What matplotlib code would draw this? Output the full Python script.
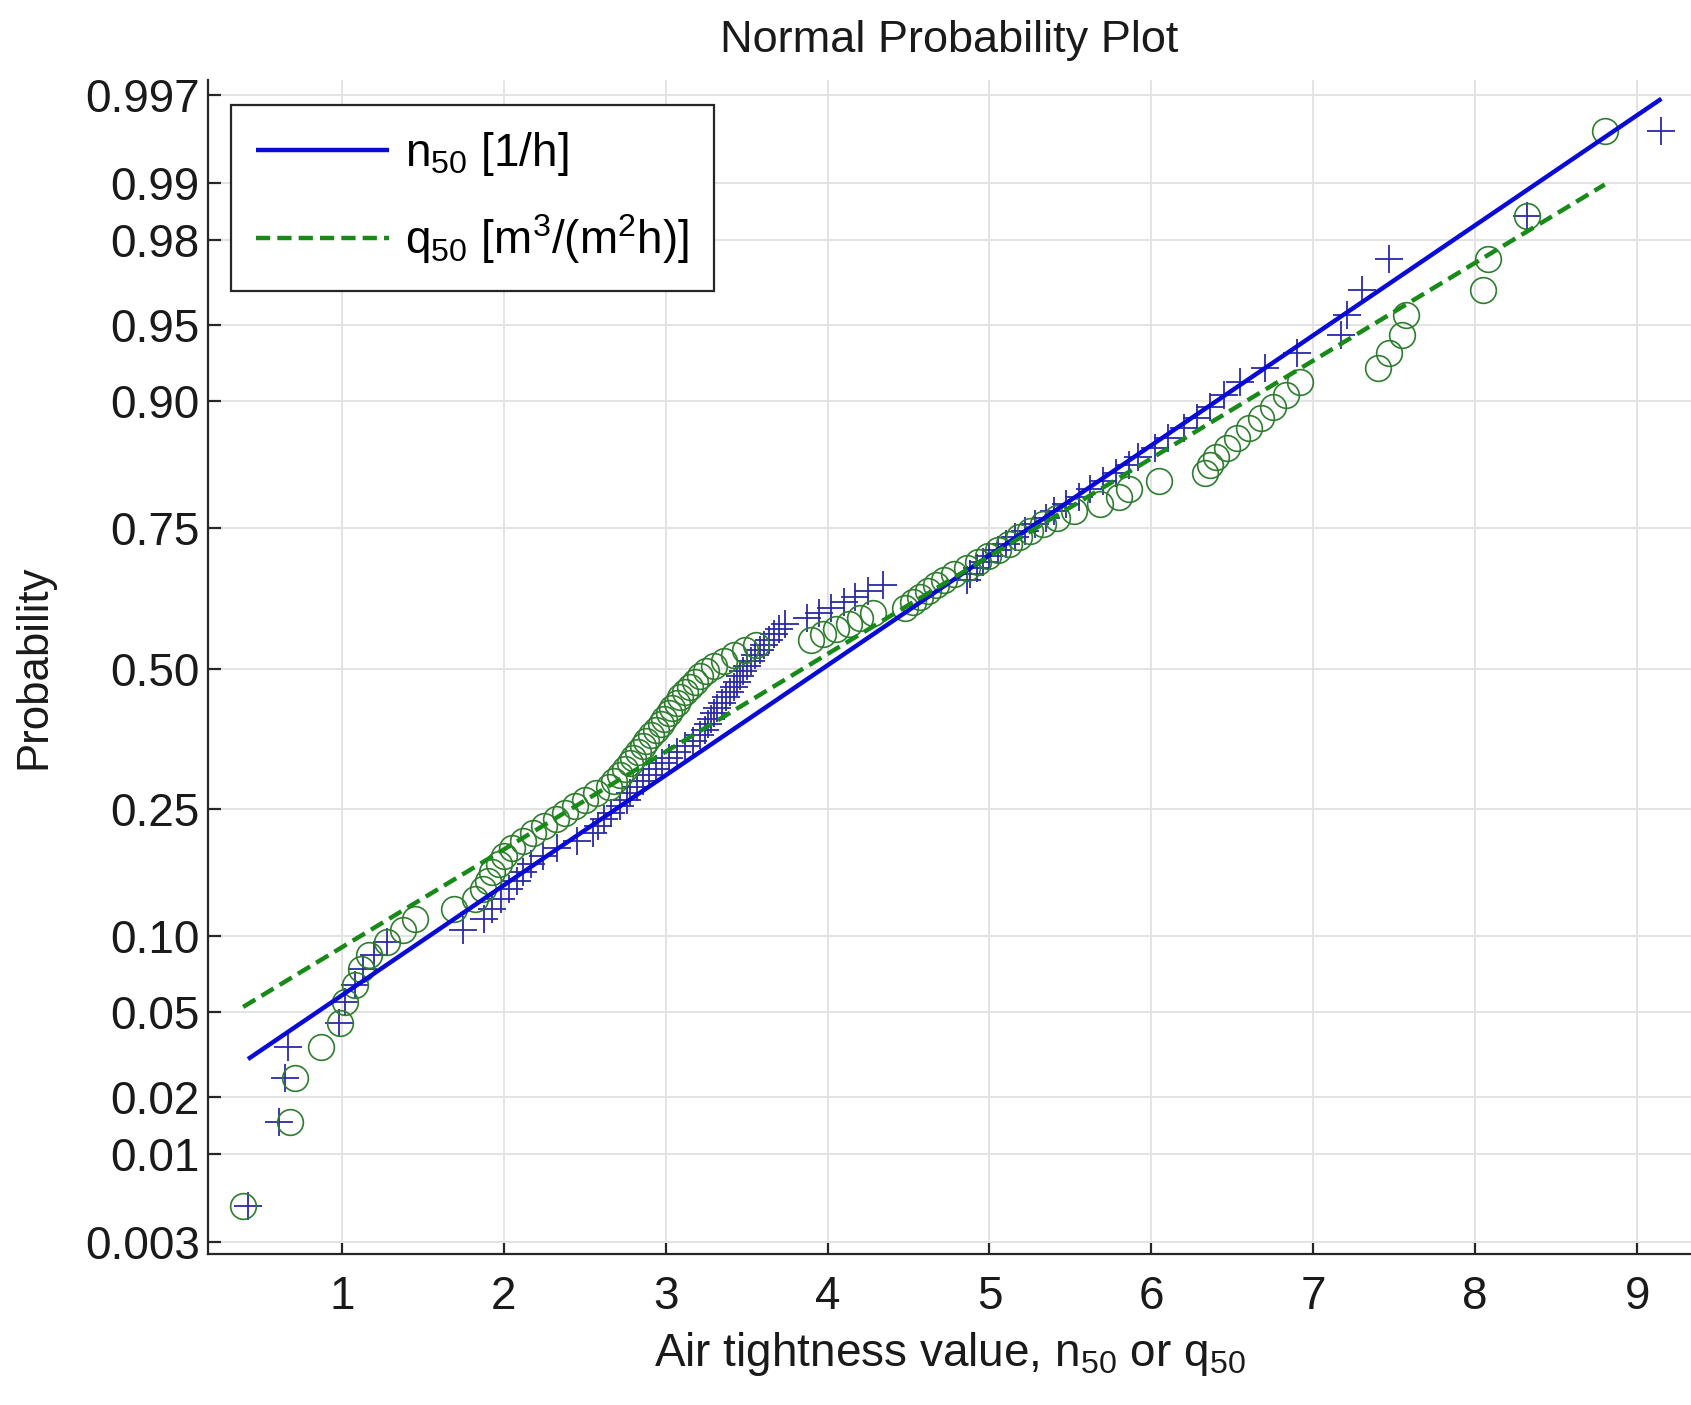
import numpy as np
import matplotlib
matplotlib.use("Agg")
import matplotlib.pyplot as plt
from statistics import NormalDist

plt.rcParams['font.family'] = ['Liberation Sans', 'DejaVu Sans']
plt.rcParams['mathtext.fontset'] = 'custom'
plt.rcParams['mathtext.rm'] = 'Liberation Sans'
plt.rcParams['mathtext.it'] = 'Liberation Sans:italic'
plt.rcParams['mathtext.bf'] = 'Liberation Sans:bold'

# ---------------- data (sorted air tightness values) ----------------
n50_values = [
    0.42, 0.61, 0.65, 0.67, 0.98, 1.02, 1.08, 1.13, 1.20, 1.28,
    1.75, 1.88, 1.93, 1.98, 2.03, 2.08, 2.12, 2.17, 2.24, 2.33,
    2.45, 2.55, 2.58, 2.62, 2.66, 2.72, 2.76, 2.78, 2.82, 2.86,
    2.90, 2.94, 2.98, 3.02, 3.07, 3.12, 3.17, 3.21, 3.24, 3.26,
    3.28, 3.30, 3.32, 3.35, 3.37, 3.40, 3.42, 3.44, 3.46, 3.48,
    3.50, 3.53, 3.55, 3.58, 3.61, 3.64, 3.67, 3.70, 3.74, 3.87,
    3.95, 4.02, 4.10, 4.17, 4.25, 4.34, 4.86, 4.88, 4.92, 4.96,
    5.00, 5.05, 5.10, 5.16, 5.22, 5.28, 5.35, 5.40, 5.47, 5.55,
    5.62, 5.70, 5.78, 5.86, 5.92, 6.02, 6.10, 6.20, 6.28, 6.36,
    6.45, 6.55, 6.70, 6.90, 7.17, 7.21, 7.30, 7.47, 8.32, 9.15,
]
q50_values = [
    0.39, 0.68, 0.71, 0.87, 0.99, 1.02, 1.08, 1.12, 1.17, 1.28,
    1.38, 1.45, 1.69, 1.82, 1.87, 1.90, 1.93, 1.97, 2.00, 2.05,
    2.12, 2.18, 2.25, 2.32, 2.38, 2.44, 2.50, 2.57, 2.65, 2.68,
    2.72, 2.75, 2.78, 2.80, 2.83, 2.86, 2.88, 2.91, 2.94, 2.97,
    2.99, 3.02, 3.04, 3.07, 3.09, 3.12, 3.15, 3.18, 3.21, 3.25,
    3.30, 3.36, 3.42, 3.49, 3.56, 3.90, 3.97, 4.05, 4.13, 4.20,
    4.28, 4.48, 4.53, 4.57, 4.62, 4.67, 4.72, 4.78, 4.86, 4.93,
    4.99, 5.05, 5.12, 5.18, 5.25, 5.33, 5.42, 5.52, 5.68, 5.80,
    5.86, 6.05, 6.33, 6.36, 6.40, 6.47, 6.53, 6.60, 6.68, 6.75,
    6.83, 6.92, 7.40, 7.47, 7.55, 7.57, 8.05, 8.08, 8.32, 8.80,
]
series_labels = [r'n$_{50}$ [1/h]', r'q$_{50}$ [m$^{3}$/(m$^{2}$h)]']
prob_ticks = [0.003, 0.01, 0.02, 0.05, 0.10, 0.25, 0.50, 0.75, 0.90, 0.95, 0.98, 0.99, 0.997]
prob_tick_labels = ['0.003', '0.01', '0.02', '0.05', '0.10', '0.25', '0.50',
                    '0.75', '0.90', '0.95', '0.98', '0.99', '0.997']
x_ticks = [1, 2, 3, 4, 5, 6, 7, 8, 9]

# ---------------- normal probability scale ----------------
_nd = NormalDist()
_ppf = np.vectorize(_nd.inv_cdf, otypes=[float])
_cdf = np.vectorize(_nd.cdf, otypes=[float])


def fwd(p):
    p = np.clip(np.asarray(p, dtype=float), 1e-12, 1 - 1e-12)
    return _ppf(p)


def inv(z):
    return _cdf(np.asarray(z, dtype=float))


def plotting_positions(n):
    return (np.arange(1, n + 1) - 0.5) / n


def prctile(x, pct):
    xs = np.sort(x)
    n = len(xs)
    pos = pct / 100.0 * n + 0.5  # 1-based position
    return np.interp(pos, np.arange(1, n + 1), xs)


def ref_line(x):
    q1, q3 = prctile(x, 25), prctile(x, 75)
    z1, z3 = _nd.inv_cdf(0.25), _nd.inv_cdf(0.75)
    slope = (z3 - z1) / (q3 - q1)
    xl = np.array([np.min(x), np.max(x)])
    zl = z1 + slope * (xl - q1)
    return xl, inv(zl)


fig = plt.figure(figsize=(16.91, 14.05), dpi=100)
ax = fig.add_axes([0.123, 0.1075, 0.877, 0.8355])
ax.set_yscale('function', functions=(fwd, inv))

plus_color = '#2a2aa6'
circ_color = '#2e7d2e'
blue_line = '#0a0ad8'
green_line = '#178a17'

xn = np.sort(np.array(n50_values))
xq = np.sort(np.array(q50_values))
ax.plot(xn, plotting_positions(len(xn)), linestyle='none', marker='+',
        markersize=20, markeredgewidth=1.3, color=plus_color, zorder=3)
ax.plot(xq, plotting_positions(len(xq)), linestyle='none', marker='o',
        markersize=18.5, markeredgewidth=1.2, markerfacecolor='none',
        markeredgecolor=circ_color, zorder=3)

lx, lp = ref_line(xn)
ax.plot(lx, lp, color=blue_line, linewidth=3.2, solid_capstyle='butt',
        label=series_labels[0], zorder=4)
lx, lp = ref_line(xq)
ax.plot(lx, lp, color=green_line, linewidth=3.2, linestyle=(0, (3.2, 1.6)),
        label=series_labels[1], zorder=4)

ax.set_xlim(0.173, 9.333)
ax.set_ylim(inv(-2.804), inv(2.819))
ax.set_xticks(x_ticks)
ax.set_xticklabels([str(t) for t in x_ticks])
ax.set_yticks(prob_ticks)
ax.set_yticklabels(prob_tick_labels)
ax.minorticks_off()

ax.grid(True, color='#e3e3e3', linewidth=1.4)
ax.set_axisbelow(True)
for s in ['top', 'right']:
    ax.spines[s].set_visible(False)
for s in ['left', 'bottom']:
    ax.spines[s].set_linewidth(1.6)
    ax.spines[s].set_color('#262626')

ax.tick_params(axis='both', direction='in', length=9, width=1.6, colors='#262626',
               labelsize=33, labelcolor='#1a1a1a')
ax.tick_params(axis='y', pad=6)
ax.tick_params(axis='x', pad=15)

ax.set_title('Normal Probability Plot', fontsize=32.5, color='#1a1a1a', pad=20)
ax.set_xlabel(r'Air tightness value, n$_{50}$ or q$_{50}$', fontsize=33,
              color='#1a1a1a', labelpad=8)
ax.set_ylabel('Probability', fontsize=31.5, color='#1a1a1a', labelpad=22)

leg = ax.legend(loc='upper left', bbox_to_anchor=(0.0155, 0.979), borderaxespad=0,
                fontsize=33, handlelength=2.9, handletextpad=0.35,
                labelspacing=0.75, borderpad=0.55, fancybox=False, framealpha=1)
leg.get_frame().set_edgecolor('#262626')
leg.get_frame().set_linewidth(1.6)

fig.savefig('out.png', dpi=100)
